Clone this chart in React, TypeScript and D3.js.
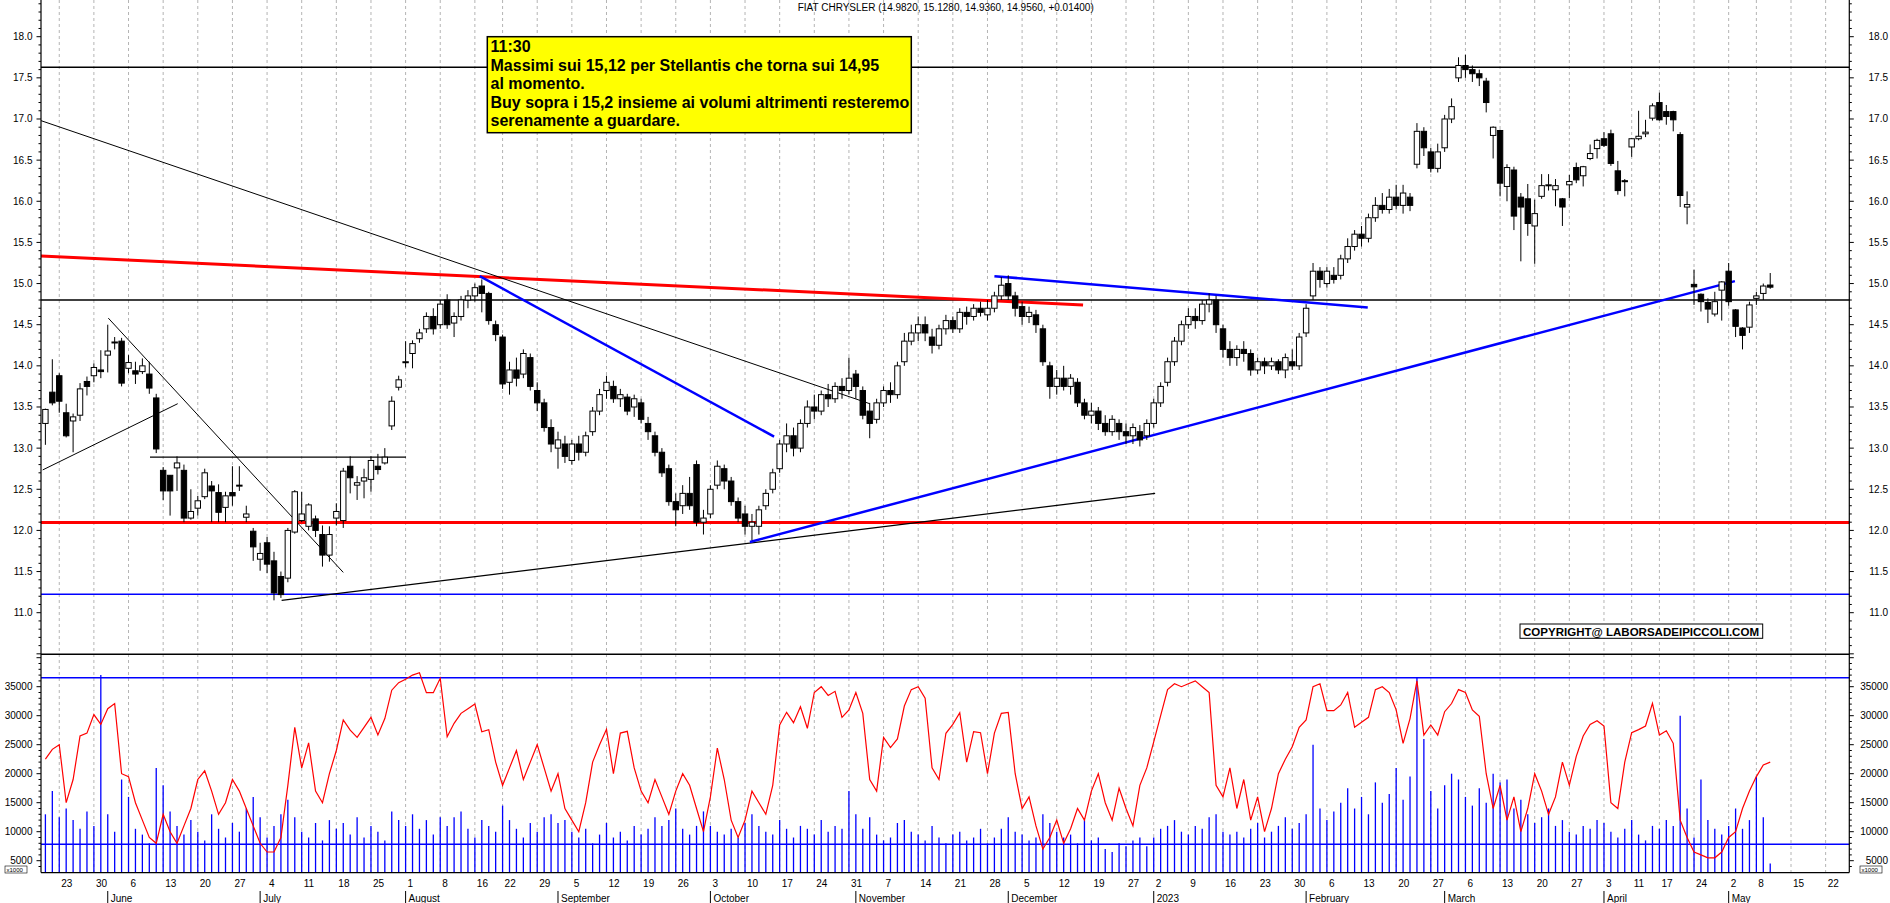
import React, { useLayoutEffect } from 'react';
import * as d3 from 'd3';

const FONT = "'Liberation Sans', Arial, Helvetica, sans-serif";

const title = 'FIAT CHRYSLER (14.9820, 15.1280, 14.9360, 14.9560, +0.01400)';

// [open, high, low, close] per trading day, 19 May 2022 -> 10 May 2023
const ohlc: [number, number, number, number][] = [
  [13.30, 13.48, 13.04, 13.47], [13.68, 14.08, 13.52, 13.55], [13.88, 13.91, 13.43, 13.57], [13.43, 13.54, 13.13, 13.15], [13.33, 13.42, 12.95, 13.38],
  [13.40, 13.79, 13.33, 13.72], [13.81, 13.87, 13.64, 13.75], [13.88, 14.03, 13.80, 13.98], [13.95, 14.19, 13.85, 13.93], [14.13, 14.50, 13.92, 14.18],
  [14.28, 14.35, 14.20, 14.29], [14.30, 14.34, 13.75, 13.79], [13.97, 14.13, 13.91, 14.04], [13.94, 14.05, 13.78, 13.90], [13.93, 14.09, 13.90, 14.00],
  [13.90, 14.05, 13.66, 13.73], [13.61, 13.66, 12.94, 12.99], [12.73, 12.77, 12.37, 12.48], [12.67, 12.67, 12.18, 12.48], [12.76, 12.90, 12.48, 12.82],
  [12.73, 12.80, 12.10, 12.15], [12.15, 12.50, 12.13, 12.23], [12.27, 12.42, 12.18, 12.36], [12.41, 12.75, 12.38, 12.70], [12.54, 12.60, 12.10, 12.48],
  [12.46, 12.56, 12.10, 12.22], [12.28, 12.47, 12.10, 12.42], [12.46, 12.78, 12.30, 12.42], [12.55, 12.78, 12.48, 12.55], [12.16, 12.30, 12.10, 12.20],
  [11.99, 12.03, 11.63, 11.80], [11.65, 11.85, 11.51, 11.72], [11.85, 11.92, 11.48, 11.59], [11.63, 11.74, 11.15, 11.24], [11.44, 11.50, 11.18, 11.22],
  [11.42, 12.03, 11.37, 12.00], [11.98, 12.49, 11.96, 12.47], [12.12, 12.47, 12.10, 12.20], [12.05, 12.33, 12.00, 12.31], [12.14, 12.18, 11.92, 12.00],
  [11.95, 12.06, 11.56, 11.70], [11.70, 12.05, 11.62, 11.95], [12.15, 12.33, 12.06, 12.23], [12.12, 12.76, 12.03, 12.72], [12.78, 12.90, 12.45, 12.64],
  [12.55, 12.66, 12.37, 12.58], [12.60, 12.75, 12.39, 12.64], [12.62, 12.90, 12.47, 12.85], [12.78, 12.93, 12.68, 12.74], [12.82, 13.00, 12.80, 12.89],
  [13.27, 13.63, 13.22, 13.57], [13.74, 13.88, 13.70, 13.83], [14.04, 14.30, 13.98, 14.05], [14.15, 14.31, 13.97, 14.27], [14.33, 14.45, 14.28, 14.40],
  [14.45, 14.65, 14.40, 14.60], [14.60, 14.70, 14.38, 14.45], [14.50, 14.80, 14.45, 14.75], [14.80, 14.87, 14.45, 14.50], [14.52, 14.65, 14.35, 14.60],
  [14.60, 14.85, 14.55, 14.80], [14.80, 14.92, 14.70, 14.85], [14.85, 15.00, 14.78, 14.95], [14.97, 15.05, 14.65, 14.88], [14.88, 14.90, 14.50, 14.55],
  [14.50, 14.55, 14.30, 14.38], [14.35, 14.38, 13.72, 13.78], [13.80, 14.05, 13.65, 13.95], [13.95, 14.10, 13.75, 13.85], [13.90, 14.20, 13.85, 14.15],
  [14.10, 14.15, 13.70, 13.75], [13.70, 13.80, 13.45, 13.55], [13.55, 13.60, 13.20, 13.25], [13.25, 13.35, 12.95, 13.05], [13.00, 13.20, 12.75, 13.10],
  [13.05, 13.15, 12.82, 12.90], [12.85, 13.10, 12.80, 13.05], [13.05, 13.15, 12.85, 12.95], [12.95, 13.20, 12.90, 13.15], [13.20, 13.50, 13.15, 13.45],
  [13.45, 13.72, 13.40, 13.65], [13.70, 13.88, 13.60, 13.80], [13.75, 13.82, 13.55, 13.60], [13.60, 13.72, 13.50, 13.65], [13.62, 13.66, 13.40, 13.45],
  [13.50, 13.65, 13.38, 13.60], [13.55, 13.60, 13.30, 13.35], [13.30, 13.38, 13.10, 13.20], [13.15, 13.20, 12.90, 12.95], [12.95, 13.00, 12.65, 12.70],
  [12.75, 12.80, 12.30, 12.35], [12.35, 12.45, 12.05, 12.25], [12.30, 12.55, 12.20, 12.45], [12.45, 12.65, 12.25, 12.30], [12.80, 12.85, 12.05, 12.10],
  [12.10, 12.25, 11.95, 12.15], [12.20, 12.55, 12.15, 12.50], [12.55, 12.85, 12.50, 12.78], [12.75, 12.80, 12.50, 12.60], [12.60, 12.65, 12.30, 12.35],
  [12.35, 12.40, 12.10, 12.15], [12.20, 12.30, 11.95, 12.05], [12.05, 12.20, 11.88, 12.10], [12.05, 12.30, 11.95, 12.25], [12.30, 12.50, 12.25, 12.45],
  [12.50, 12.75, 12.45, 12.70], [12.75, 13.10, 12.70, 13.05], [13.05, 13.30, 12.95, 13.15], [13.15, 13.25, 12.90, 13.00], [13.00, 13.35, 12.95, 13.30],
  [13.30, 13.58, 13.25, 13.50], [13.50, 13.65, 13.35, 13.45], [13.45, 13.70, 13.40, 13.65], [13.65, 13.78, 13.50, 13.60], [13.60, 13.80, 13.55, 13.75],
  [13.75, 13.85, 13.60, 13.70], [13.70, 14.10, 13.65, 13.85], [13.90, 13.95, 13.60, 13.75], [13.70, 13.75, 13.35, 13.40], [13.45, 13.55, 13.12, 13.30],
  [13.35, 13.60, 13.30, 13.55], [13.55, 13.75, 13.50, 13.70], [13.70, 13.80, 13.55, 13.65], [13.65, 14.05, 13.60, 14.00], [14.05, 14.40, 14.00, 14.30],
  [14.30, 14.50, 14.25, 14.40], [14.40, 14.60, 14.30, 14.50], [14.50, 14.60, 14.30, 14.40], [14.35, 14.45, 14.15, 14.25], [14.25, 14.50, 14.20, 14.45],
  [14.45, 14.62, 14.38, 14.55], [14.55, 14.60, 14.40, 14.45], [14.45, 14.70, 14.40, 14.65], [14.65, 14.72, 14.50, 14.60], [14.60, 14.75, 14.55, 14.70],
  [14.70, 14.78, 14.60, 14.65], [14.62, 14.80, 14.55, 14.70], [14.70, 14.90, 14.65, 14.85], [14.85, 15.08, 14.80, 14.98], [15.00, 15.10, 14.80, 14.85],
  [14.85, 14.90, 14.60, 14.70], [14.72, 14.78, 14.50, 14.60], [14.60, 14.72, 14.52, 14.65], [14.62, 14.68, 14.40, 14.50], [14.45, 14.50, 14.00, 14.05],
  [14.00, 14.05, 13.60, 13.75], [13.75, 13.95, 13.65, 13.85], [13.85, 14.00, 13.70, 13.75], [13.75, 13.90, 13.65, 13.85], [13.80, 13.85, 13.50, 13.55],
  [13.55, 13.60, 13.35, 13.40], [13.40, 13.55, 13.30, 13.45], [13.45, 13.50, 13.22, 13.30], [13.30, 13.40, 13.15, 13.20], [13.20, 13.40, 13.15, 13.35],
  [13.30, 13.35, 13.10, 13.20], [13.20, 13.30, 13.05, 13.15], [13.15, 13.30, 13.05, 13.25], [13.20, 13.28, 13.02, 13.10], [13.15, 13.35, 13.10, 13.30],
  [13.30, 13.60, 13.25, 13.55], [13.55, 13.80, 13.50, 13.75], [13.80, 14.10, 13.75, 14.05], [14.05, 14.35, 14.00, 14.30], [14.30, 14.55, 14.25, 14.50],
  [14.50, 14.70, 14.45, 14.60], [14.60, 14.70, 14.45, 14.55], [14.55, 14.80, 14.50, 14.75], [14.75, 14.88, 14.65, 14.80], [14.80, 14.85, 14.40, 14.50],
  [14.45, 14.50, 14.10, 14.20], [14.20, 14.30, 14.00, 14.10], [14.10, 14.25, 14.00, 14.20], [14.20, 14.30, 14.05, 14.15], [14.15, 14.20, 13.88, 13.95],
  [13.95, 14.10, 13.90, 14.05], [14.05, 14.10, 13.90, 14.00], [14.00, 14.10, 13.95, 14.05], [14.05, 14.08, 13.90, 13.95], [13.95, 14.15, 13.85, 14.10],
  [14.05, 14.20, 13.95, 14.00], [14.00, 14.40, 13.95, 14.35], [14.40, 14.75, 14.35, 14.70], [14.85, 15.25, 14.80, 15.15], [15.15, 15.20, 14.95, 15.05],
  [15.00, 15.20, 14.95, 15.15], [15.10, 15.20, 15.00, 15.05], [15.10, 15.35, 15.05, 15.30], [15.30, 15.55, 15.25, 15.45], [15.45, 15.65, 15.40, 15.60],
  [15.60, 15.70, 15.45, 15.55], [15.55, 15.85, 15.50, 15.80], [15.80, 16.05, 15.75, 15.95], [15.95, 16.10, 15.85, 15.90], [15.90, 16.15, 15.85, 16.05],
  [16.05, 16.20, 15.90, 15.95], [15.95, 16.20, 15.85, 16.10], [16.05, 16.10, 15.88, 15.95], [16.45, 16.95, 16.40, 16.85], [16.85, 16.90, 16.55, 16.65],
  [16.60, 16.65, 16.35, 16.40], [16.40, 16.70, 16.35, 16.60], [16.65, 17.05, 16.60, 17.00], [17.00, 17.25, 16.95, 17.15], [17.50, 17.75, 17.45, 17.65],
  [17.65, 17.78, 17.50, 17.60], [17.60, 17.65, 17.45, 17.55], [17.55, 17.60, 17.40, 17.50], [17.46, 17.50, 17.08, 17.20], [16.80, 16.91, 16.52, 16.90],
  [16.86, 16.87, 16.06, 16.22], [16.18, 16.45, 16.00, 16.41], [16.38, 16.42, 15.65, 15.82], [16.05, 16.10, 15.27, 15.93], [16.03, 16.21, 15.58, 15.73],
  [15.70, 16.02, 15.24, 15.85], [16.06, 16.33, 16.03, 16.19], [16.19, 16.33, 16.13, 16.20], [16.14, 16.27, 15.94, 16.19], [16.03, 16.04, 15.70, 15.93],
  [16.20, 16.32, 16.04, 16.24], [16.41, 16.47, 16.22, 16.26], [16.31, 16.43, 16.18, 16.42], [16.52, 16.69, 16.50, 16.58], [16.64, 16.76, 16.52, 16.74],
  [16.76, 16.84, 16.66, 16.68], [16.82, 16.87, 16.43, 16.46], [16.37, 16.49, 16.08, 16.13], [16.25, 16.27, 16.06, 16.24], [16.66, 16.77, 16.54, 16.76],
  [16.76, 17.10, 16.74, 16.79], [16.82, 16.99, 16.78, 16.84], [17.01, 17.19, 16.98, 17.16], [17.20, 17.32, 16.98, 16.99], [17.09, 17.17, 16.93, 17.03],
  [17.09, 17.10, 16.85, 16.99], [16.81, 16.84, 15.93, 16.07], [15.93, 16.12, 15.72, 15.96], [14.99, 15.17, 14.74, 14.96], [14.87, 14.88, 14.66, 14.78],
  [14.77, 14.82, 14.52, 14.69], [14.63, 14.90, 14.60, 14.78], [14.92, 15.03, 14.55, 15.02], [15.15, 15.25, 14.73, 14.78], [14.68, 14.69, 14.35, 14.48],
  [14.46, 14.47, 14.20, 14.37], [14.47, 14.78, 14.40, 14.74], [14.82, 14.90, 14.74, 14.85], [14.88, 15.00, 14.80, 14.97], [14.982, 15.128, 14.936, 14.956],
];

const volumes: number[] = [
  13000, 17000, 12500, 14000, 12000, 10500, 13500, 11000, 37000, 13000, 10000, 19000, 16000, 10500, 9500, 8000, 21000, 18000, 13500, 11000,
  9500, 12000, 10000, 8500, 13000, 10500, 9000, 11500, 10000, 14000, 16000, 12500,
  9000, 11000, 13000, 15500, 12500, 10000, 9000, 11500, 8500, 12000, 10500, 11500, 9500, 12500, 9000, 11000, 10000, 8500, 13500, 12000,
  11000, 13000, 10500, 12000, 9500, 12500, 11000, 12500, 13500, 10500, 9000, 12000, 11000, 10000, 14500, 12000, 10500, 9000, 11500, 10000, 12500,
  13000, 11500, 12000, 10000, 9000, 10500, 8000, 9500, 11500, 9000, 10000, 8500, 11000, 9500, 10500, 12500, 11000, 12000, 14000, 10500, 9500, 11000, 13500,
  11000, 10000, 9500, 10500, 9000, 11500, 13000, 11000, 10000, 9500, 12000, 10500, 9000, 11000, 10500, 9500, 12000, 10000, 11000, 10500, 17000,
  13000, 10500, 12500, 9500, 8500, 9000, 11500, 12000, 10000, 9500, 8500, 11000, 9000, 8000, 9500, 10000, 8500, 9000, 10500, 8000, 9000, 10500,
  12500, 10000, 9500, 8500, 9000, 13000, 11500, 10000, 9000, 9500, 8000, 12000, 8500, 9000, 7000, 6500, 8000, 7500, 8500, 9000, 7500,
  9000, 10500, 11000, 12000, 10000, 9500, 11000, 10500, 12500, 13000, 10000, 9500, 10000, 9000, 10500, 11500, 9000, 10000, 11000, 12500, 10500,
  11500, 13000, 25000, 14000, 12000, 13500, 15000, 17500, 14000, 16000, 13000, 18500, 15000, 16500, 21000, 15500, 19500, 36500, 26000, 17000, 14000,
  18000, 20000, 19000, 16000, 14500, 17500, 15000, 20000, 18500, 19000, 14000, 15500, 13000, 11500, 12500, 14000, 11000, 12000, 10000, 9500, 11000, 10500, 12000,
  11500, 10000, 9000, 10500, 12000, 9500, 8500, 11000, 10500, 12000, 11000, 30000, 14000, 9000, 19000, 12000, 10500, 9500, 11000, 14000, 10500, 12000, 19500, 12500, 4500,
];

const volumeIndicator: number[] = [
  22500, 24200, 25000, 15000, 19000, 26500, 27000, 30200, 28500, 31200,
  32100, 20000, 19500, 15000, 12000, 9000, 8000, 13000, 10000, 8000,
  11000, 14000, 19000, 20500, 17000, 13000, 15000, 19000, 17000, 14000,
  11000, 8000, 6500, 6500, 9000, 18000, 28000, 21000, 25300, 17000,
  15000, 20000, 24000, 29260, 27500, 26270, 28000, 29720, 26670, 29500,
  34400, 35700, 36270, 37000, 37400, 33970, 33970, 36450, 26380, 28690,
  30410, 31200, 32010, 27240, 27590, 22000, 18000, 21000, 24000, 19000,
  22000, 25000, 21000, 17000, 20000, 14000, 12000, 10000, 15000, 22000,
  25000, 27660, 20000, 27000, 27300, 21000, 17000, 15000, 19000, 16000,
  13000, 17000, 20000, 18000, 14000, 10000, 16000, 24400, 19000, 12000,
  9000, 12000, 17000, 15000, 13000, 18000, 28400, 30580, 28800, 31550,
  27830, 34000, 35000, 33500, 34200, 29720, 31000, 34000, 30410, 19000,
  17000, 26270, 24500, 26000, 31670, 34500, 35000, 33000, 21000, 19000,
  26970, 28500, 30520, 22000, 27240, 27070, 20000, 27000, 30410, 30580,
  20000, 14000, 16000, 11000, 7000, 9000, 12000, 8000, 10500, 14000,
  12000, 17000, 20000, 15000, 12000, 17500, 14000, 11000, 18000, 21000,
  25500, 30000, 34500, 35500, 35000, 35500, 36000, 35000, 34000, 18000,
  16000, 21000, 14000, 19000, 12000, 16000, 10000, 14000, 20000, 22500,
  24650, 28000, 29260, 35000, 35500, 30860, 30860, 31850, 34000, 28000,
  28860, 29720, 34500, 35000, 34000, 31000, 25240, 29500, 36000, 26670,
  28400, 26670, 30690, 32100, 34500, 34000, 31000, 29900, 20000, 14000,
  18000, 12000, 16000, 10000, 14000, 20000, 17000, 13000, 16000, 22000,
  18000, 23000, 26500, 28500, 29140, 28220, 15000, 14000, 22000, 27070,
  27600, 28220, 32140, 26670, 27410, 25240, 12000, 9000, 6500, 6000,
  5500, 5500, 6500, 9000, 10000, 14000, 17000, 19500, 21500, 22000,
];

// week grid: [trading-day index, day label]
const weekTicks: [number, string][] = [
  [2, '23'], [7, '30'], [12, '6'], [17, '13'], [22, '20'], [27, '27'], [32, '4'], [37, '11'], [42, '18'], [47, '25'],
  [52, '1'], [57, '8'], [62, '16'], [66, '22'], [71, '29'], [76, '5'], [81, '12'], [86, '19'], [91, '26'], [96, '3'],
  [101, '10'], [106, '17'], [111, '24'], [116, '31'], [121, '7'], [126, '14'], [131, '21'], [136, '28'], [141, '5'], [146, '12'],
  [151, '19'], [156, '27'], [160, '2'], [165, '9'], [170, '16'], [175, '23'], [180, '30'], [185, '6'], [190, '13'], [195, '20'],
  [200, '27'], [205, '6'], [210, '13'], [215, '20'], [220, '27'], [225, '3'], [229, '11'], [233, '17'], [238, '24'], [243, '2'],
  [247, '8'], [252, '15'], [257, '22'],
];
const monthTicks: [number, string][] = [
  [9, 'June'], [31, 'July'], [52, 'August'], [74, 'September'], [96, 'October'], [117, 'November'],
  [139, 'December'], [160, '2023'], [182, 'February'], [202, 'March'], [225, 'April'], [243, 'May'],
];

// horizontal levels
const priceLevels: { v: number; color: string; w: number }[] = [
  { v: 17.63, color: '#000', w: 1.5 },
  { v: 14.8, color: '#000', w: 1.5 },
  { v: 12.095, color: '#ff0000', w: 3 },
  { v: 11.225, color: '#0000ff', w: 1.5 },
];
const volumeLevels = [36540, 7820];

// trend lines: [k1, p1, k2, p2]
const trendLines: { p: [number, number, number, number]; color: string; w: number }[] = [
  { p: [-0.64, 15.335, 149.8, 14.74], color: '#ff0000', w: 3 },
  { p: [-0.64, 16.98, 119, 13.54], color: '#000', w: 1 },
  { p: [-0.39, 12.735, 19.1, 13.54], color: '#000', w: 1 },
  { p: [15.1, 12.89, 52.06, 12.89], color: '#000', w: 1.2 },
  { p: [9.08, 14.58, 43.0, 11.49], color: '#000', w: 1 },
  { p: [34.1, 11.15, 160.2, 12.45], color: '#000', w: 1.2 },
  { p: [62.7, 15.09, 105.2, 13.14], color: '#0000ff', w: 2.5 },
  { p: [101.7, 11.86, 243.9, 15.03], color: '#0000ff', w: 2.5 },
  { p: [137, 15.09, 190.9, 14.71], color: '#0000ff', w: 2.5 },
];

const noteLines = [
  '11:30',
  'Massimi sui 15,12 per Stellantis che torna sui 14,95',
  'al momento.',
  'Buy sopra i 15,2 insieme ai volumi altrimenti resteremo',
  'serenamente a guardare.',
];

const W = 1890, H = 903;
const L = 41, R = 1849.3;
const PRICE_BOT = 654.3, VOL_BOT = 872.6;

export default function App() {
  useLayoutEffect(() => {
    document.body.style.margin = '0';
  }, []);

  const x = d3.scaleLinear().domain([0, 249]).range([45.4, 45.4 + 249 * 6.927]);
  const yP = d3.scaleLinear().domain([11, 18]).range([612.7, 36.7]);
  const yV = d3.scaleLinear().domain([5000, 35000]).range([860.7, 686.7]);

  const priceMinor = d3.range(105, 185).map((v) => v / 10);
  const priceMajor = d3.range(11, 18.001, 0.5);
  const volMinor = d3.range(4000, 41000, 1000);
  const volMajor = d3.range(5000, 35001, 5000);

  const osc = d3
    .line<number>()
    .x((_, i) => x(i))
    .y((d) => yV(d));

  const bw = 5.4;

  return (
    <svg width={W} height={H} style={{ position: 'absolute', left: 0, top: 0, background: '#fff' }} fontFamily={FONT}>
      <rect x={0} y={0} width={W} height={H} fill="#fff" />
      {/* week grid */}
      {weekTicks.map(([k]) => (
        <line key={'g' + k} x1={x(k)} x2={x(k)} y1={0} y2={VOL_BOT} stroke="#b4b4b4" strokeWidth={1} strokeDasharray="3,3" />
      ))}

      {/* title */}
      <text x={797.7} y={10.5} fontSize={10} fill="#000">{title}</text>

      {/* price levels */}
      {priceLevels.map((l, i) => (
        <line key={'pl' + i} x1={L} x2={R} y1={yP(l.v)} y2={yP(l.v)} stroke={l.color} strokeWidth={l.w} />
      ))}

      {/* trend lines */}
      {trendLines.map((t, i) => (
        <line key={'tl' + i} x1={x(t.p[0])} y1={yP(t.p[1])} x2={x(t.p[2])} y2={yP(t.p[3])} stroke={t.color} strokeWidth={t.w} />
      ))}

      {/* candles */}
      {ohlc.map(([o, h, l, c], i) => {
        const cx = x(i);
        const up = c >= o;
        const top = yP(Math.max(o, c));
        const bot = yP(Math.min(o, c));
        const bh = Math.max(1, bot - top);
        return (
          <g key={'c' + i}>
            <line x1={cx} x2={cx} y1={yP(h)} y2={yP(l)} stroke="#000" strokeWidth={1} />
            <rect x={cx - bw / 2} y={top} width={bw} height={bh} fill={up ? '#fff' : '#000'} stroke="#000" strokeWidth={1} />
          </g>
        );
      })}

      {/* annotation */}
      <rect x={487.3} y={36.7} width={424} height={96} fill="#ffff00" stroke="#000" strokeWidth={1.5} />
      {noteLines.map((s, i) => (
        <text key={'n' + i} x={490.5} y={52 + i * 18.6} fontSize={16} fontWeight="bold" fill="#000">{s}</text>
      ))}

      {/* copyright */}
      <rect x={1520} y={624} width={242.7} height={14.3} fill="#fff" stroke="#000" strokeWidth={1} />
      <text x={1523} y={635.6} fontSize={11} fontWeight="bold" fill="#000" textLength={236} lengthAdjust="spacingAndGlyphs">COPYRIGHT@ LABORSADEIPICCOLI.COM</text>

      {/* panel separator */}
      <line x1={L} x2={R} y1={PRICE_BOT} y2={PRICE_BOT} stroke="#000" strokeWidth={1.5} />

      {/* volume levels */}
      {volumeLevels.map((v, i) => (
        <line key={'vl' + i} x1={L} x2={R} y1={yV(v)} y2={yV(v)} stroke="#0000ff" strokeWidth={1.5} />
      ))}

      {/* volume bars */}
      {volumes.map((v, i) => (
        <line key={'v' + i} x1={x(i)} x2={x(i)} y1={VOL_BOT} y2={yV(v)} stroke="#0000ff" strokeWidth={1.3} />
      ))}

      {/* volume indicator */}
      <path d={osc(volumeIndicator) || ''} fill="none" stroke="#ff0000" strokeWidth={1.2} />

      {/* axes */}
      <line x1={L} x2={L} y1={0} y2={VOL_BOT} stroke="#000" strokeWidth={1.2} />
      <line x1={R} x2={R} y1={0} y2={VOL_BOT} stroke="#000" strokeWidth={1.2} />
      <line x1={L} x2={R} y1={VOL_BOT} y2={VOL_BOT} stroke="#000" strokeWidth={1.2} />

      {priceMinor.map((v) => {
        const major = Math.round(v * 10) % 5 === 0;
        const len = major ? 4.5 : 2.5;
        return (
          <g key={'pt' + v}>
            <line x1={L - len} x2={L} y1={yP(v)} y2={yP(v)} stroke="#000" strokeWidth={1} />
            <line x1={R} x2={R + len} y1={yP(v)} y2={yP(v)} stroke="#000" strokeWidth={1} />
          </g>
        );
      })}
      {priceMajor.map((v) => (
        <g key={'pl' + v}>
          <text x={32.5} y={yP(v)} dy="0.35em" textAnchor="end" fontSize={10} fill="#000">{v.toFixed(1)}</text>
          <text x={1888} y={yP(v)} dy="0.35em" textAnchor="end" fontSize={10} fill="#000">{v.toFixed(1)}</text>
        </g>
      ))}

      {volMinor.map((v) => {
        const major = v % 5000 === 0;
        const len = major ? 4.5 : 2.5;
        return (
          <g key={'vt' + v}>
            <line x1={L - len} x2={L} y1={yV(v)} y2={yV(v)} stroke="#000" strokeWidth={1} />
            <line x1={R} x2={R + len} y1={yV(v)} y2={yV(v)} stroke="#000" strokeWidth={1} />
          </g>
        );
      })}
      {volMajor.map((v) => (
        <g key={'vlab' + v}>
          <text x={32.5} y={yV(v)} dy="0.35em" textAnchor="end" fontSize={10} fill="#000">{v}</text>
          <text x={1888} y={yV(v)} dy="0.35em" textAnchor="end" fontSize={10} fill="#000">{v}</text>
        </g>
      ))}
      <rect x={5} y={866} width={22} height={7} fill="#fff" stroke="#000" strokeWidth={0.6} />
      <text x={6.5} y={872} fontSize={6} fill="#000">x1000</text>
      <rect x={1860} y={866} width={22} height={7} fill="#fff" stroke="#000" strokeWidth={0.6} />
      <text x={1861.5} y={872} fontSize={6} fill="#000">x1000</text>

      {/* time axis labels */}
      {weekTicks.map(([k, s]) => (
        <text key={'wl' + k} x={x(k) + 2} y={887} fontSize={10} fill="#000">{s}</text>
      ))}
      {monthTicks.map(([k, s]) => (
        <g key={'ml' + k}>
          <line x1={x(k)} x2={x(k)} y1={891} y2={903} stroke="#000" strokeWidth={1} />
          <text x={x(k) + 3} y={901.5} fontSize={10} fill="#000">{s}</text>
        </g>
      ))}
    </svg>
  );
}
